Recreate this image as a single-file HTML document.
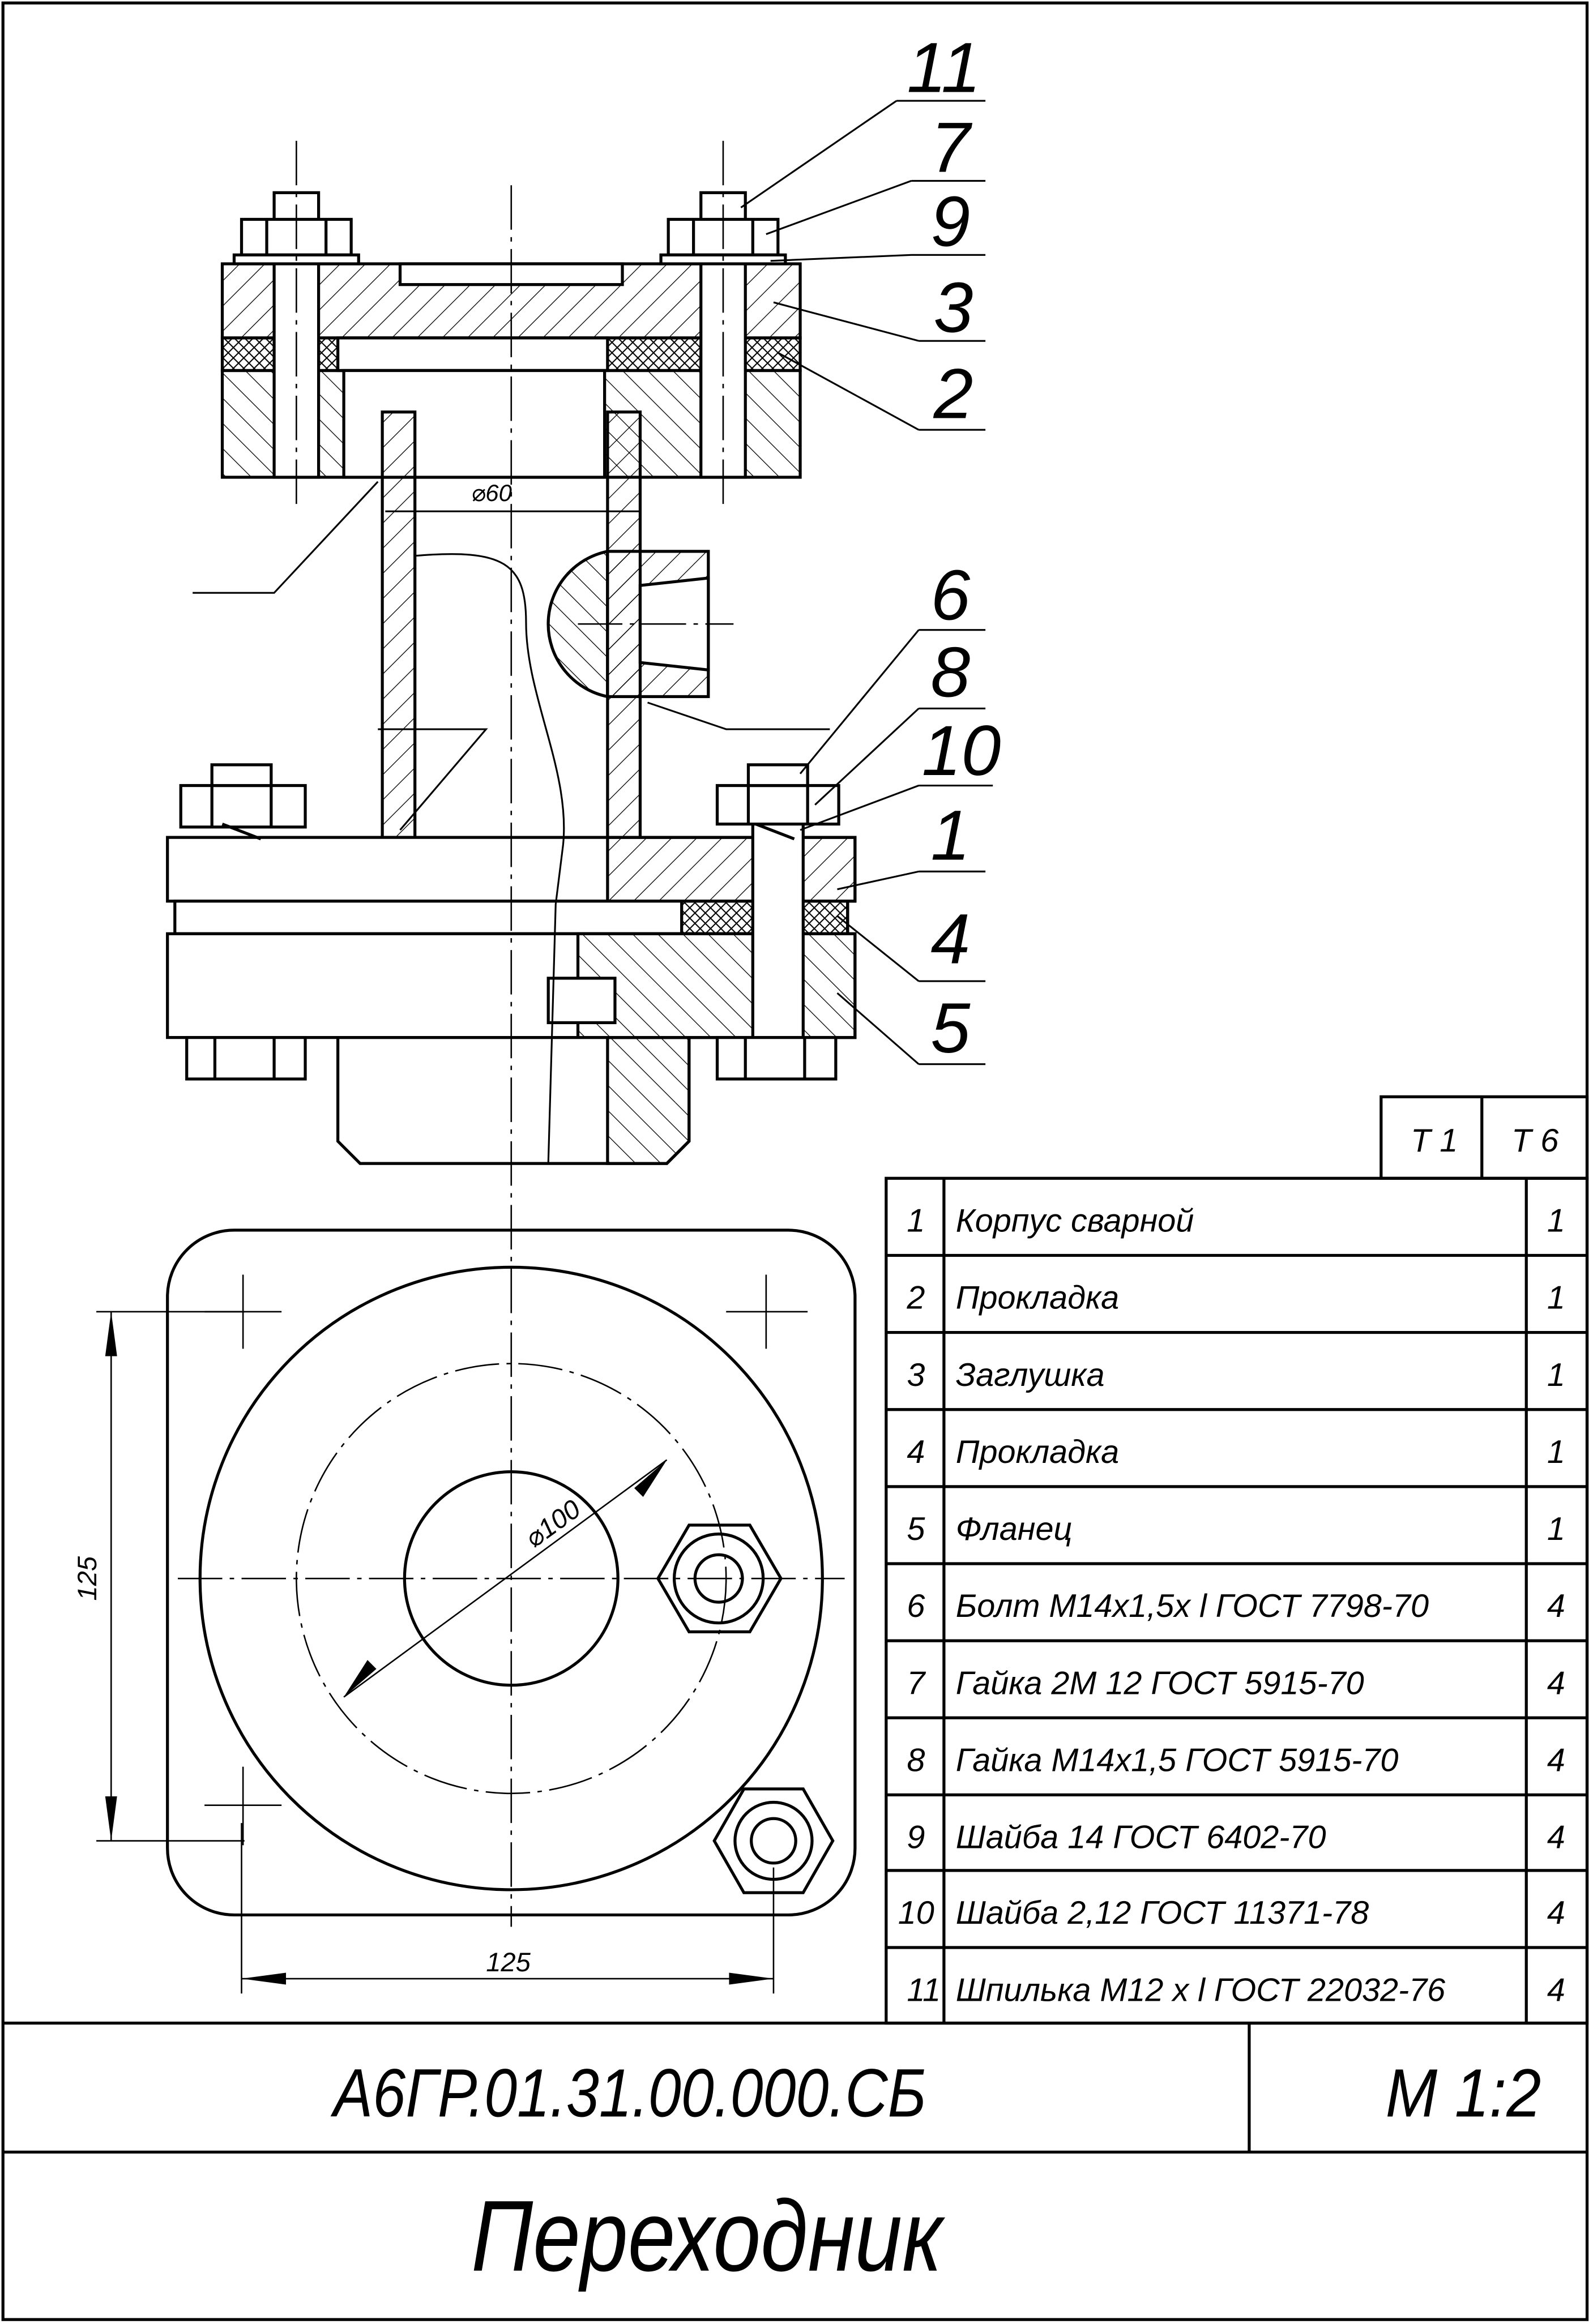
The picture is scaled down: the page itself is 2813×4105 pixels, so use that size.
<!DOCTYPE html>
<html><head><meta charset="utf-8"><style>
html,body{margin:0;padding:0;background:#fff;}
svg{display:block;}
text{font-family:"Liberation Sans","DejaVu Sans",sans-serif;font-style:italic;fill:#000;}
</style></head><body>
<svg width="2813" height="4105" viewBox="0 0 1075 1568" preserveAspectRatio="none" xmlns="http://www.w3.org/2000/svg">
<defs>
<pattern id="h" width="12" height="12" patternUnits="userSpaceOnUse" patternTransform="rotate(45)"><line x1="0" y1="0" x2="0" y2="12" stroke="#000" stroke-width="1"/></pattern>
<pattern id="h2" width="12" height="12" patternUnits="userSpaceOnUse" patternTransform="rotate(-45)"><line x1="0" y1="0" x2="0" y2="12" stroke="#000" stroke-width="1"/></pattern>
<pattern id="x" width="7" height="7" patternUnits="userSpaceOnUse"><path d="M0 0L7 7M7 0L0 7" stroke="#000" stroke-width="0.8"/></pattern>
</defs>
<g fill="none" stroke="#000" stroke-width="2">
<rect x="2" y="2" width="1069" height="1563"/>
<line x1="2" y1="1365" x2="1071" y2="1365"/>
<line x1="2" y1="1452" x2="1071" y2="1452"/>
<line x1="843" y1="1365" x2="843" y2="1452"/>
<rect x="598" y="795" width="473" height="570"/>
<line x1="637" y1="795" x2="637" y2="1365"/>
<line x1="1030" y1="795" x2="1030" y2="1365"/>
<rect x="932" y="740" width="139" height="55"/>
<line x1="1000" y1="740" x2="1000" y2="795"/>
</g>
<g stroke="#000" stroke-width="2">
<line x1="598" y1="847" x2="1071" y2="847"/><line x1="598" y1="899" x2="1071" y2="899"/>
<line x1="598" y1="951" x2="1071" y2="951"/><line x1="598" y1="1003" x2="1071" y2="1003"/>
<line x1="598" y1="1055" x2="1071" y2="1055"/><line x1="598" y1="1107" x2="1071" y2="1107"/>
<line x1="598" y1="1159" x2="1071" y2="1159"/><line x1="598" y1="1211" x2="1071" y2="1211"/>
<line x1="598" y1="1262" x2="1071" y2="1262"/><line x1="598" y1="1314" x2="1071" y2="1314"/>
</g>
<g font-size="22">
<text x="952" y="777">Т 1</text><text x="1020" y="777">Т 6</text>
<text x="612" y="831">1</text><text x="645" y="831">Корпус сварной</text><text x="1044" y="831">1</text>
<text x="612" y="883">2</text><text x="645" y="883">Прокладка</text><text x="1044" y="883">1</text>
<text x="612" y="935">3</text><text x="645" y="935">Заглушка</text><text x="1044" y="935">1</text>
<text x="612" y="987">4</text><text x="645" y="987">Прокладка</text><text x="1044" y="987">1</text>
<text x="612" y="1039">5</text><text x="645" y="1039">Фланец</text><text x="1044" y="1039">1</text>
<text x="612" y="1091">6</text><text x="645" y="1091">Болт М14х1,5х l ГОСТ 7798-70</text><text x="1044" y="1091">4</text>
<text x="612" y="1143">7</text><text x="645" y="1143">Гайка 2М 12 ГОСТ 5915-70</text><text x="1044" y="1143">4</text>
<text x="612" y="1195">8</text><text x="645" y="1195">Гайка М14х1,5 ГОСТ 5915-70</text><text x="1044" y="1195">4</text>
<text x="612" y="1247">9</text><text x="645" y="1247">Шайба 14 ГОСТ 6402-70</text><text x="1044" y="1247">4</text>
<text x="606" y="1298">10</text><text x="645" y="1298">Шайба 2,12 ГОСТ 11371-78</text><text x="1044" y="1298">4</text>
<text x="612" y="1350">11</text><text x="645" y="1350">Шпилька М12 х l ГОСТ 22032-76</text><text x="1044" y="1350">4</text>
</g>
<text x="225" y="1428" font-size="46" textLength="400" lengthAdjust="spacingAndGlyphs">А6ГР.01.31.00.000.СБ</text>
<text x="935" y="1428" font-size="46" textLength="105" lengthAdjust="spacingAndGlyphs">М 1:2</text>
<text x="318" y="1532" font-size="68" textLength="318" lengthAdjust="spacingAndGlyphs">Переходник</text>

<g stroke="#000" stroke-width="2">
<rect x="150" y="178" width="390" height="50" fill="url(#h)"/>
<rect x="270" y="178" width="150" height="14" fill="#fff"/>
<rect x="150" y="228" width="390" height="22" fill="url(#x)"/>
<rect x="228" y="228" width="182" height="22" fill="#fff"/>
<rect x="150" y="250" width="390" height="72" fill="url(#h2)"/>
<rect x="232" y="250" width="176" height="72" fill="#fff"/>
<rect x="185" y="130" width="30" height="192" fill="#fff"/>
<rect x="473" y="130" width="30" height="192" fill="#fff"/>
<rect x="163" y="148" width="74" height="24" fill="#fff"/>
<rect x="451" y="148" width="74" height="24" fill="#fff"/>
<line x1="180" y1="148" x2="180" y2="172"/><line x1="220" y1="148" x2="220" y2="172"/>
<line x1="468" y1="148" x2="468" y2="172"/><line x1="508" y1="148" x2="508" y2="172"/>
<rect x="158" y="172" width="84" height="6" fill="#fff"/>
<rect x="446" y="172" width="84" height="6" fill="#fff"/>
<path d="M258 278 H280 V565 H258 Z" fill="url(#h)"/>
<path d="M410 278 H432 V565 H410 Z" fill="url(#h)"/>
<path d="M410 372 A50 50 0 0 0 410 470 Z" fill="url(#h2)"/>
<rect x="410" y="372" width="68" height="98" fill="url(#h)"/>
<path d="M432 395 L478 390 L478 452 L432 447 Z" fill="#fff"/>
<rect x="113" y="565" width="464" height="43" fill="#fff"/>
<rect x="410" y="565" width="167" height="43" fill="url(#h)"/>
<rect x="118" y="608" width="454" height="22" fill="#fff"/>
<rect x="460" y="608" width="112" height="22" fill="url(#x)"/>
<rect x="113" y="630" width="464" height="70" fill="#fff"/>
<rect x="390" y="630" width="187" height="70" fill="url(#h2)"/>
<path d="M228 700 H465 V770 L450 785 H243 L228 770 Z" fill="#fff"/>
<path d="M410 700 H465 V770 L450 785 H410 Z" fill="url(#h2)"/>
<rect x="370" y="660" width="45" height="30" fill="#fff"/>
<rect x="508" y="545" width="34" height="155" fill="#fff"/>
<rect x="484" y="530" width="82" height="26" fill="#fff"/>
<line x1="505" y1="530" x2="505" y2="556"/><line x1="545" y1="530" x2="545" y2="556"/>
<rect x="505" y="516" width="40" height="14" fill="#fff"/>
<rect x="122" y="530" width="84" height="28" fill="#fff"/>
<line x1="143" y1="530" x2="143" y2="558"/><line x1="183" y1="530" x2="183" y2="558"/>
<rect x="143" y="516" width="40" height="14" fill="#fff"/>
<rect x="126" y="700" width="80" height="28" fill="#fff"/>
<line x1="145" y1="700" x2="145" y2="728"/><line x1="185" y1="700" x2="185" y2="728"/>
<rect x="484" y="700" width="80" height="28" fill="#fff"/>
<line x1="503" y1="700" x2="503" y2="728"/><line x1="543" y1="700" x2="543" y2="728"/>
<line x1="150" y1="556" x2="176" y2="566"/>
<line x1="510" y1="556" x2="536" y2="566"/>
</g>
<g fill="none" stroke="#000" stroke-width="1.2">
<path d="M280 375 C340 370 355 380 355 420 C355 470 385 520 380 570 L375 610 L370 785"/>
<line x1="260" y1="345" x2="432" y2="345"/>
<text x="318" y="338" font-size="16" stroke="none">⌀60</text>
<path d="M130 400 H185 L255 325"/>
<path d="M270 560 L328 492 H255"/>
<path d="M560 492 H490 L437 474"/>
<path d="M605 68 H665 M605 68 L500 140"/>
<path d="M615 122 H665 M615 122 L517 158"/>
<path d="M615 172 H665 M615 172 L520 176"/>
<path d="M620 230 H665 M620 230 L522 204"/>
<path d="M620 290 H665 M620 290 L525 238"/>
<path d="M620 425 H665 M620 425 L540 522"/>
<path d="M620 478 H665 M620 478 L550 543"/>
<path d="M620 530 H670 M620 530 L540 560"/>
<path d="M620 588 H665 M620 588 L565 600"/>
<path d="M620 662 H665 M620 662 L565 618"/>
<path d="M620 718 H665 M620 718 L565 670"/>
</g>
<g font-size="48" style="font-style:normal">
<text x="612" y="62">11</text><text x="628" y="116">7</text><text x="628" y="166">9</text>
<text x="630" y="224">3</text><text x="630" y="282">2</text><text x="628" y="418">6</text>
<text x="628" y="470">8</text><text x="622" y="523">10</text><text x="628" y="580">1</text>
<text x="628" y="650">4</text><text x="628" y="710">5</text>
</g>
<g stroke="#000" stroke-width="1" stroke-dasharray="30 5 3 5">
<line x1="345" y1="125" x2="345" y2="1300"/>
<line x1="200" y1="95" x2="200" y2="345"/>
<line x1="488" y1="95" x2="488" y2="345"/>
<line x1="390" y1="421" x2="495" y2="421"/>
<line x1="120" y1="1065" x2="570" y2="1065"/>
</g>
<g fill="none" stroke="#000" stroke-width="2">
<rect x="113" y="830" width="464" height="462" rx="45"/>
<circle cx="345" cy="1065" r="210"/>
<circle cx="345" cy="1065" r="72"/>
<polygon points="444,1065 465,1029 506,1029 527,1065 506,1101 465,1101"/>
<circle cx="485" cy="1065" r="30"/>
<circle cx="485" cy="1065" r="16"/>
<polygon points="482,1242 502,1207 542,1207 562,1242 542,1277 502,1277"/>
<circle cx="522" cy="1242" r="26"/>
<circle cx="522" cy="1242" r="15"/>
</g>
<g fill="none" stroke="#000" stroke-width="1">
<circle cx="345" cy="1065" r="145" stroke-dasharray="30 5 3 5"/>
<path d="M138 885 H190 M164 860 V910 M490 885 H545 M517 860 V910 M138 1218 H190 M164 1192 V1245"/>
<path d="M65 885 H165 M65 1242 H165 M75 885 V1242 M163 1230 V1345 M522 1260 V1345 M163 1335 H522"/>
<path d="M232 1145 L450 985"/>
</g>
<g fill="#000">
<polygon points="75,885 71,915 79,915"/><polygon points="75,1242 71,1212 79,1212"/>
<polygon points="163,1335 193,1331 193,1339"/><polygon points="522,1335 492,1331 492,1339"/>
<polygon points="450,985 428,1004 434,1010"/><polygon points="232,1145 254,1126 248,1120"/>
</g>
<text x="343" y="1330" font-size="18" text-anchor="middle">125</text>
<text x="65" y="1065" font-size="18" text-anchor="middle" transform="rotate(-90 65 1065)">125</text>
<text x="360" y="1045" font-size="18" transform="rotate(-36 360 1045)">⌀100</text>
</svg>
</body></html>
